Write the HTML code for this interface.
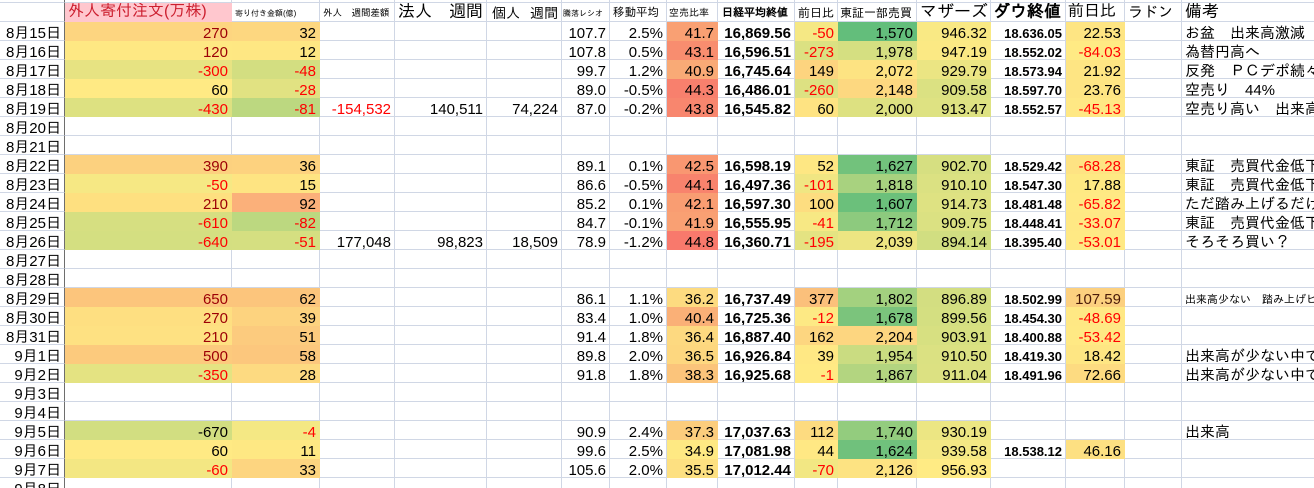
<!DOCTYPE html>
<html><head><meta charset="utf-8">
<style>
*{margin:0;padding:0}
html,body{width:1314px;height:488px;overflow:hidden;background:#fff}
body{font-family:"Liberation Sans","IPAGothic",sans-serif;color:#000}
#w{position:relative;width:1314px;height:488px;overflow:hidden}
.r{display:flex;width:1322px;height:19px}
.r>div{flex:none;box-sizing:border-box;height:100%;border-right:1px solid #d0d7e5;border-bottom:1px solid #d0d7e5;overflow:hidden;white-space:nowrap;font-size:15px;line-height:15px;text-align:right;padding:3.5px 3px 0 0}
.t{height:3px}
.t>div{padding:0!important}
.h>div{display:flex;align-items:flex-end;justify-content:flex-start;padding:0 0 1.5px 3px!important;line-height:1!important}
.a{width:65px;border-right-color:#6e6e6e!important}
.b{width:167px}.c{width:88px}.d{width:75px}.e{width:92px}.f{width:75px}.g{width:48px}.hh{width:57px}.i{width:51px}
.j{width:77px;font-weight:bold}.k{width:43px}.l{width:79px}.m{width:74px}
.n{width:75px;font-weight:bold;font-size:13px!important}.o{width:59px}.p{width:57px}
.q{width:140px;text-align:left!important;padding-left:3px!important}
.x{border-color:transparent!important}
.rd{color:#ff0000}.dr{color:#9c0006}
</style></head><body><div id="w">
<div class="r t"><div class="a"></div><div class="b"></div><div class="c"></div><div class="d"></div><div class="e"></div><div class="f"></div><div class="g"></div><div class="hh"></div><div class="i"></div><div class="j"></div><div class="k"></div><div class="l"></div><div class="m"></div><div class="n"></div><div class="o"></div><div class="p"></div><div class="q"></div></div>
<div class="r h">
<div class="a"></div>
<div class="b x" style="background:#ffc7ce;color:#cc1f2f;font-size:16px">外人寄付注文(万株)</div>
<div class="c" style="font-size:8px;padding-bottom:3px!important">寄り付き金額(億)</div>
<div class="d" style="font-size:9.5px;padding-bottom:3px!important">外人　週間差額</div>
<div class="e" style="font-size:17px;justify-content:space-between;padding-right:3px!important"><span>法人</span><span>週間</span></div>
<div class="f" style="font-size:14px;justify-content:space-between;padding-left:5px!important;padding-right:3px!important"><span>個人</span><span>週間</span></div>
<div class="g" style="font-size:8px;padding-left:1px!important;padding-bottom:3px!important">騰落レシオ</div>
<div class="hh" style="font-size:11.5px;padding-bottom:2px!important">移動平均</div>
<div class="i" style="font-size:10px;padding-left:2px!important;padding-bottom:2.5px!important">空売比率</div>
<div class="j" style="font-size:11px;padding-left:4px!important;padding-bottom:2.5px!important">日経平均終値</div>
<div class="k" style="font-size:12px;padding-bottom:2px!important">前日比</div>
<div class="l" style="font-size:12px;padding-left:2px!important;padding-bottom:2px!important">東証一部売買</div>
<div class="m" style="font-size:17px">マザーズ</div>
<div class="n" style="font-size:17px!important;padding-left:2px!important">ダウ終値</div>
<div class="o" style="font-size:16px;padding-left:2px!important">前日比</div>
<div class="p" style="font-size:15px">ラドン</div>
<div class="q" style="font-size:17px">備考</div>
</div>

<div class="r"><div class="a">8月15日</div><div class="b x dr" style="background:#fdd580">270</div><div class="c x" style="background:#fdd780">32</div><div class="d"></div><div class="e"></div><div class="f"></div><div class="g">107.7</div><div class="hh">2.5%</div><div class="i x" style="background:#f9a073">41.7</div><div class="j">16,869.56</div><div class="k x rd" style="background:#f5e884">-50</div><div class="l x" style="background:#63be7b">1,570</div><div class="m x" style="background:#f9e984">946.32</div><div class="n">18.636.05</div><div class="o x" style="background:#fee583">22.53</div><div class="p"></div><div class="q">お盆　出来高激減</div></div>

<div class="r"><div class="a">8月16日</div><div class="b x dr" style="background:#fee883">120</div><div class="c x" style="background:#fee783">12</div><div class="d"></div><div class="e"></div><div class="f"></div><div class="g">107.8</div><div class="hh">0.5%</div><div class="i x" style="background:#f88d6f">43.1</div><div class="j">16,596.51</div><div class="k x rd" style="background:#dbe182">-273</div><div class="l x" style="background:#d5df81">1,978</div><div class="m x" style="background:#fbe984">947.19</div><div class="n">18.552.02</div><div class="o x rd" style="background:#ffea84">-84.03</div><div class="p"></div><div class="q">為替円高へ</div></div>

<div class="r"><div class="a">8月17日</div><div class="b x rd" style="background:#e7e382">-300</div><div class="c x rd" style="background:#d3de81">-48</div><div class="d"></div><div class="e"></div><div class="f"></div><div class="g">99.7</div><div class="hh">1.2%</div><div class="i x" style="background:#f9aa76">40.9</div><div class="j">16,745.64</div><div class="k x" style="background:#fdd47f">149</div><div class="l x" style="background:#fde382">2,072</div><div class="m x" style="background:#ebe583">929.79</div><div class="n">18.573.94</div><div class="o x" style="background:#fee583">21.92</div><div class="p"></div><div class="q">反発　ＰＣデポ続々売り</div></div>

<div class="r"><div class="a">8月18日</div><div class="b x" style="background:#ffea84">60</div><div class="c x rd" style="background:#e1e282">-28</div><div class="d"></div><div class="e"></div><div class="f"></div><div class="g">89.0</div><div class="hh">-0.5%</div><div class="i x" style="background:#f8806d">44.3</div><div class="j">16,486.01</div><div class="k x rd" style="background:#dde182">-260</div><div class="l x" style="background:#fdd880">2,148</div><div class="m x" style="background:#dbe182">909.58</div><div class="n">18.597.70</div><div class="o x" style="background:#fee583">23.76</div><div class="p"></div><div class="q">空売り　44%</div></div>

<div class="r"><div class="a">8月19日</div><div class="b x rd" style="background:#dde181">-430</div><div class="c x rd" style="background:#bcd880">-81</div><div class="d rd">-154,532</div><div class="e">140,511</div><div class="f">74,224</div><div class="g">87.0</div><div class="hh">-0.2%</div><div class="i x" style="background:#f8866e">43.8</div><div class="j">16,545.82</div><div class="k x" style="background:#fee382">60</div><div class="l x" style="background:#dde181">2,000</div><div class="m x" style="background:#dee282">913.47</div><div class="n">18.552.57</div><div class="o x rd" style="background:#ffe884">-45.13</div><div class="p"></div><div class="q">空売り高い　出来高少</div></div>

<div class="r"><div class="a">8月20日</div><div class="b"></div><div class="c"></div><div class="d"></div><div class="e"></div><div class="f"></div><div class="g"></div><div class="hh"></div><div class="i"></div><div class="j"></div><div class="k"></div><div class="l"></div><div class="m"></div><div class="n"></div><div class="o"></div><div class="p"></div><div class="q"></div></div>

<div class="r"><div class="a">8月21日</div><div class="b"></div><div class="c"></div><div class="d"></div><div class="e"></div><div class="f"></div><div class="g"></div><div class="hh"></div><div class="i"></div><div class="j"></div><div class="k"></div><div class="l"></div><div class="m"></div><div class="n"></div><div class="o"></div><div class="p"></div><div class="q"></div></div>

<div class="r"><div class="a">8月22日</div><div class="b x dr" style="background:#fcd17f">390</div><div class="c x" style="background:#fdd27f">36</div><div class="d"></div><div class="e"></div><div class="f"></div><div class="g">89.1</div><div class="hh">0.1%</div><div class="i x" style="background:#f99771">42.5</div><div class="j">16,598.19</div><div class="k x" style="background:#fee783">52</div><div class="l x" style="background:#72c27c">1,627</div><div class="m x" style="background:#d6df81">902.70</div><div class="n">18.529.42</div><div class="o x rd" style="background:#fee383">-68.28</div><div class="p"></div><div class="q">東証　売買代金低下</div></div>

<div class="r"><div class="a">8月23日</div><div class="b x rd" style="background:#f6e884">-50</div><div class="c x" style="background:#fee482">15</div><div class="d"></div><div class="e"></div><div class="f"></div><div class="g">86.6</div><div class="hh">-0.5%</div><div class="i x" style="background:#f8836d">44.1</div><div class="j">16,497.36</div><div class="k x rd" style="background:#f0e683">-101</div><div class="l x" style="background:#a8d27f">1,818</div><div class="m x" style="background:#dbe182">910.10</div><div class="n">18.547.30</div><div class="o x" style="background:#fee983">17.88</div><div class="p"></div><div class="q">東証　売買代金低下</div></div>

<div class="r"><div class="a">8月24日</div><div class="b x dr" style="background:#fee080">210</div><div class="c x" style="background:#fbb07a">92</div><div class="d"></div><div class="e"></div><div class="f"></div><div class="g">85.2</div><div class="hh">0.1%</div><div class="i x" style="background:#f99d72">42.1</div><div class="j">16,597.30</div><div class="k x" style="background:#fddd80">100</div><div class="l x" style="background:#6bc07b">1,607</div><div class="m x" style="background:#dee282">914.73</div><div class="n">18.481.48</div><div class="o x rd" style="background:#ffe984">-65.82</div><div class="p"></div><div class="q">ただ踏み上げるだけの</div></div>

<div class="r"><div class="a">8月25日</div><div class="b x rd" style="background:#d6df81">-610</div><div class="c x rd" style="background:#bcd880">-82</div><div class="d"></div><div class="e"></div><div class="f"></div><div class="g">84.7</div><div class="hh">-0.1%</div><div class="i x" style="background:#f9a073">41.9</div><div class="j">16,555.95</div><div class="k x rd" style="background:#f7e884">-41</div><div class="l x" style="background:#8dca7e">1,712</div><div class="m x" style="background:#dbe182">909.75</div><div class="n">18.448.41</div><div class="o x rd" style="background:#ffe884">-33.07</div><div class="p"></div><div class="q">東証　売買代金低下</div></div>

<div class="r"><div class="a">8月26日</div><div class="b x rd" style="background:#d4df81">-640</div><div class="c x rd" style="background:#d5df81">-51</div><div class="d">177,048</div><div class="e">98,823</div><div class="f">18,509</div><div class="g">78.9</div><div class="hh">-1.2%</div><div class="i x" style="background:#f8796c">44.8</div><div class="j">16,360.71</div><div class="k x rd" style="background:#e4e382">-195</div><div class="l x" style="background:#ede582">2,039</div><div class="m x" style="background:#d1de81">894.14</div><div class="n">18.395.40</div><div class="o x rd" style="background:#ffe984">-53.01</div><div class="p"></div><div class="q">そろそろ買い？</div></div>

<div class="r"><div class="a">8月27日</div><div class="b"></div><div class="c"></div><div class="d"></div><div class="e"></div><div class="f"></div><div class="g"></div><div class="hh"></div><div class="i"></div><div class="j"></div><div class="k"></div><div class="l"></div><div class="m"></div><div class="n"></div><div class="o"></div><div class="p"></div><div class="q"></div></div>

<div class="r"><div class="a">8月28日</div><div class="b"></div><div class="c"></div><div class="d"></div><div class="e"></div><div class="f"></div><div class="g"></div><div class="hh"></div><div class="i"></div><div class="j"></div><div class="k"></div><div class="l"></div><div class="m"></div><div class="n"></div><div class="o"></div><div class="p"></div><div class="q"></div></div>

<div class="r"><div class="a">8月29日</div><div class="b x dr" style="background:#fcc57c">650</div><div class="c x" style="background:#fcc57c">62</div><div class="d"></div><div class="e"></div><div class="f"></div><div class="g">86.1</div><div class="hh">1.1%</div><div class="i x" style="background:#fddb80">36.2</div><div class="j">16,737.49</div><div class="k x" style="background:#fbc07b">377</div><div class="l x" style="background:#a3d17f">1,802</div><div class="m x" style="background:#d3de81">896.89</div><div class="n">18.502.99</div><div class="o x" style="background:#fcd07f;color:#4a1a08">107.59</div><div class="p"></div><div class="q" style="font-size:11px;padding-top:5px!important">出来高少ない　踏み上げピン</div></div>

<div class="r"><div class="a">8月30日</div><div class="b x dr" style="background:#fedf81">270</div><div class="c x" style="background:#fdd37f">39</div><div class="d"></div><div class="e"></div><div class="f"></div><div class="g">83.4</div><div class="hh">1.0%</div><div class="i x" style="background:#fab077">40.4</div><div class="j">16,725.36</div><div class="k x rd" style="background:#fde984">-12</div><div class="l x" style="background:#7bc47c">1,678</div><div class="m x" style="background:#d4df81">899.56</div><div class="n">18.454.30</div><div class="o x rd" style="background:#ffe884">-48.69</div><div class="p"></div><div class="q"></div></div>

<div class="r"><div class="a">8月31日</div><div class="b x dr" style="background:#fee182">210</div><div class="c x" style="background:#fccb7e">51</div><div class="d"></div><div class="e"></div><div class="f"></div><div class="g">91.4</div><div class="hh">1.8%</div><div class="i x" style="background:#fdd980">36.4</div><div class="j">16,887.40</div><div class="k x" style="background:#fdd680">162</div><div class="l x" style="background:#fdd680">2,204</div><div class="m x" style="background:#d7e081">903.91</div><div class="n">18.400.88</div><div class="o x rd" style="background:#ffe984">-53.42</div><div class="p"></div><div class="q"></div></div>

<div class="r"><div class="a">9月1日</div><div class="b x dr" style="background:#fcca7d">500</div><div class="c x" style="background:#fcc77d">58</div><div class="d"></div><div class="e"></div><div class="f"></div><div class="g">89.8</div><div class="hh">2.0%</div><div class="i x" style="background:#fdd77f">36.5</div><div class="j">16,926.84</div><div class="k x" style="background:#ffe884">39</div><div class="l x" style="background:#cadc81">1,954</div><div class="m x" style="background:#dbe182">910.50</div><div class="n">18.419.30</div><div class="o x" style="background:#fee683">18.42</div><div class="p"></div><div class="q">出来高が少ない中での</div></div>

<div class="r"><div class="a">9月2日</div><div class="b x rd" style="background:#e4e382">-350</div><div class="c x" style="background:#fdda81">28</div><div class="d"></div><div class="e"></div><div class="f"></div><div class="g">91.8</div><div class="hh">1.8%</div><div class="i x" style="background:#fbc47b">38.3</div><div class="j">16,925.68</div><div class="k x rd" style="background:#ffea84">-1</div><div class="l x" style="background:#b3d580">1,867</div><div class="m x" style="background:#dce182">911.04</div><div class="n">18.491.96</div><div class="o x" style="background:#fddb81">72.66</div><div class="p"></div><div class="q">出来高が少ない中での</div></div>

<div class="r"><div class="a">9月3日</div><div class="b"></div><div class="c"></div><div class="d"></div><div class="e"></div><div class="f"></div><div class="g"></div><div class="hh"></div><div class="i"></div><div class="j"></div><div class="k"></div><div class="l"></div><div class="m"></div><div class="n"></div><div class="o"></div><div class="p"></div><div class="q"></div></div>

<div class="r"><div class="a">9月4日</div><div class="b"></div><div class="c"></div><div class="d"></div><div class="e"></div><div class="f"></div><div class="g"></div><div class="hh"></div><div class="i"></div><div class="j"></div><div class="k"></div><div class="l"></div><div class="m"></div><div class="n"></div><div class="o"></div><div class="p"></div><div class="q"></div></div>

<div class="r"><div class="a">9月5日</div><div class="b x" style="background:#d2de81">-670</div><div class="c x rd" style="background:#f4e884">-4</div><div class="d"></div><div class="e"></div><div class="f"></div><div class="g">90.9</div><div class="hh">2.4%</div><div class="i x" style="background:#fccd7d">37.3</div><div class="j">17,037.63</div><div class="k x" style="background:#fddb80">112</div><div class="l x" style="background:#93cc7e">1,740</div><div class="m x" style="background:#ece683">930.19</div><div class="n"></div><div class="o"></div><div class="p"></div><div class="q">出来高</div></div>

<div class="r"><div class="a">9月6日</div><div class="b x" style="background:#ffea84">60</div><div class="c x" style="background:#fee883">11</div><div class="d"></div><div class="e"></div><div class="f"></div><div class="g">99.6</div><div class="hh">2.5%</div><div class="i x" style="background:#fee983">34.9</div><div class="j">17,081.98</div><div class="k x" style="background:#ffe884">44</div><div class="l x" style="background:#70c17c">1,624</div><div class="m x" style="background:#f4e884">939.58</div><div class="n">18.538.12</div><div class="o x" style="background:#fde082">46.16</div><div class="p"></div><div class="q"></div></div>

<div class="r"><div class="a">9月7日</div><div class="b x rd" style="background:#f3e783">-60</div><div class="c x" style="background:#fdd580">33</div><div class="d"></div><div class="e"></div><div class="f"></div><div class="g">105.6</div><div class="hh">2.0%</div><div class="i x" style="background:#fde081">35.5</div><div class="j">17,012.44</div><div class="k x rd" style="background:#f2e783">-70</div><div class="l x" style="background:#fde382">2,126</div><div class="m x" style="background:#ffeb84">956.93</div><div class="n"></div><div class="o"></div><div class="p"></div><div class="q"></div></div>

<div class="r"><div class="a">9月8日</div><div class="b"></div><div class="c"></div><div class="d"></div><div class="e"></div><div class="f"></div><div class="g"></div><div class="hh"></div><div class="i"></div><div class="j"></div><div class="k"></div><div class="l"></div><div class="m"></div><div class="n"></div><div class="o"></div><div class="p"></div><div class="q"></div></div>
</div></body></html>
